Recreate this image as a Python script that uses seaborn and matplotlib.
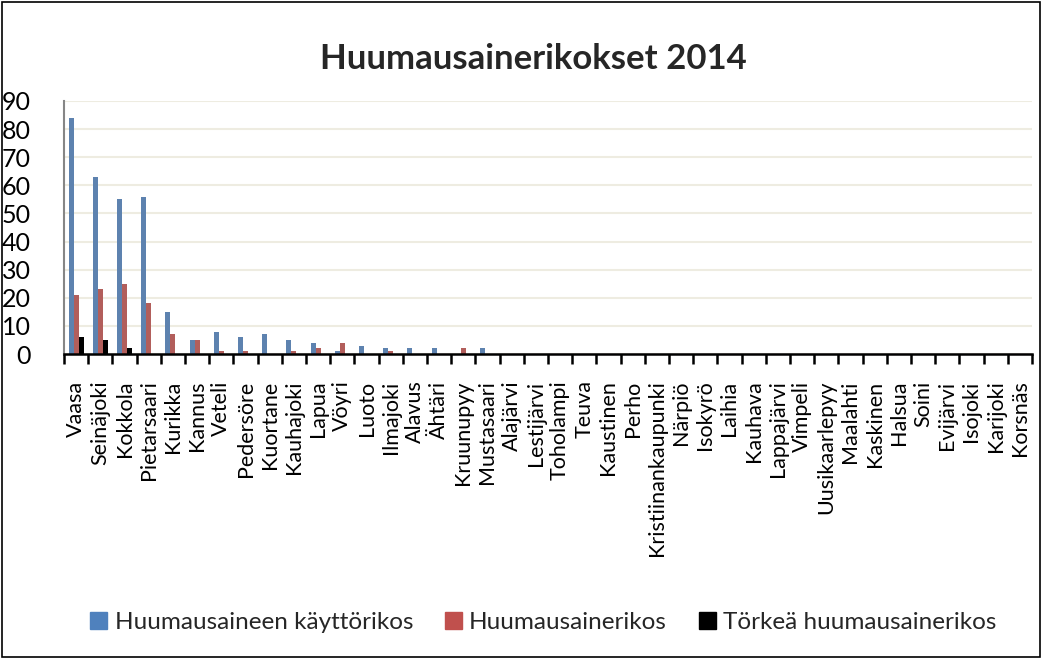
import pandas as pd
import matplotlib.pyplot as plt
import matplotlib.patches as patches
import seaborn as sns

kunnat = ['Vaasa', 'Seinäjoki', 'Kokkola', 'Pietarsaari', 'Kurikka', 'Kannus', 'Veteli',
          'Pedersöre', 'Kuortane', 'Kauhajoki', 'Lapua', 'Vöyri', 'Luoto', 'Ilmajoki',
          'Alavus', 'Ähtäri', 'Kruunupyy', 'Mustasaari', 'Alajärvi', 'Lestijärvi',
          'Toholampi', 'Teuva', 'Kaustinen', 'Perho', 'Kristiinankaupunki', 'Närpiö',
          'Isokyrö', 'Laihia', 'Kauhava', 'Lappajärvi', 'Vimpeli', 'Uusikaarlepyy',
          'Maalahti', 'Kaskinen', 'Halsua', 'Soini', 'Evijärvi', 'Isojoki', 'Karijoki',
          'Korsnäs']

kayttorikos = [84, 63, 55, 56, 15, 5, 8, 6, 7, 5, 4, 1, 3, 2, 2, 2, 0, 2] + [0] * 22
huumausainerikos = [21, 23, 25, 18, 7, 5, 1, 1, 0, 1, 2, 4, 0, 1, 0, 0, 2, 0] + [0] * 22
torkea = [6, 5, 2] + [0] * 37

sarjat = ['Huumausaineen käyttörikos', 'Huumausainerikos', 'Törkeä huumausainerikos']
varit = ['#4F81BD', '#C0504D', '#000000']

df = pd.concat([
    pd.DataFrame({'kunta': kunnat, 'arvo': kayttorikos, 'sarja': sarjat[0]}),
    pd.DataFrame({'kunta': kunnat, 'arvo': huumausainerikos, 'sarja': sarjat[1]}),
    pd.DataFrame({'kunta': kunnat, 'arvo': torkea, 'sarja': sarjat[2]}),
])

sns.set_theme(style='white')
plt.rcParams['font.family'] = ['Lato', 'DejaVu Sans']

fig = plt.figure(figsize=(10.43, 6.59), dpi=100)
ax = fig.add_axes([0.0614, 0.4628, 0.928, 0.384])

sns.barplot(data=df, x='kunta', y='arvo', hue='sarja', palette=varit,
            width=0.62, linewidth=0, ax=ax)

ax.set_ylim(0, 90)
ax.set_yticks(range(0, 91, 10))
ax.set_xlim(-0.5, len(kunnat) - 0.5)
ax.yaxis.grid(True, color='#EEECE1', linewidth=1.5)
ax.set_axisbelow(True)
ax.set_xlabel('')
ax.set_ylabel('')

for s in ['top', 'right']:
    ax.spines[s].set_visible(False)
ax.spines['left'].set_color('#868686')
ax.spines['left'].set_linewidth(1.5)
ax.spines['bottom'].set_color('black')
ax.spines['bottom'].set_linewidth(1.8)

ax.tick_params(axis='y', left=False, labelsize=18, pad=18, colors='black')
ax.set_xticks(range(len(kunnat)))
ax.set_xticklabels(kunnat, rotation=90, fontsize=15.5, color='black')
ax.tick_params(axis='x', which='major', bottom=False, pad=13)
ax.set_xticks([i - 0.5 for i in range(len(kunnat) + 1)], minor=True)
ax.tick_params(axis='x', which='minor', bottom=True, length=7, width=1.8, color='black')

ax.legend_.remove()
handles = [patches.Patch(color=c) for c in varit]
fig.legend(handles, sarjat, loc='center', bbox_to_anchor=(0.521, 0.055), ncol=3,
           frameon=False, fontsize=17.5, handlelength=0.7, handleheight=0.7,
           handletextpad=0.3, columnspacing=1.3)

fig.suptitle('Huumausainerikokset 2014', x=0.511, y=0.935, fontsize=25, fontweight='bold')

fig.add_artist(patches.Rectangle((0.002, 0.003), 0.995, 0.994, transform=fig.transFigure,
                                 fill=False, edgecolor='black', linewidth=1.2))

plt.savefig('out.png', dpi=100)
